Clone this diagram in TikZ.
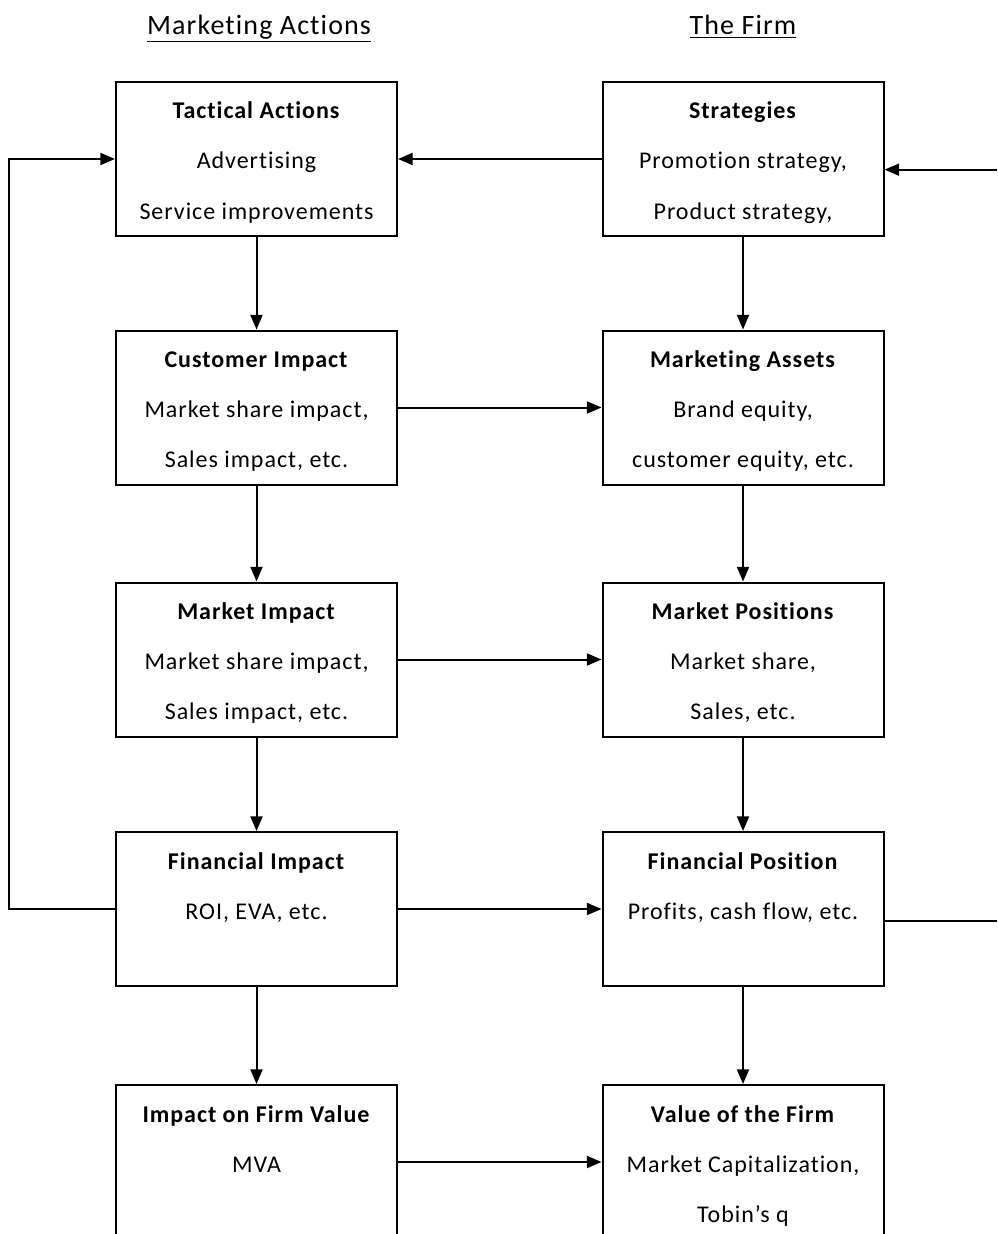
\documentclass[tikz,border=0pt]{standalone}
\usepackage{fontspec}
\setmainfont{Carlito}[LetterSpace=4,Ligatures=NoCommon]
\usepackage{tikz}
\usetikzlibrary{arrows.meta}

\begin{document}
\begin{tikzpicture}[x=0.75pt,y=-0.75pt,>={Triangle[length=11pt,width=9pt]},
    line width=1.5pt, font=\fontsize{18}{37.5}\selectfont,
    box/.style={rectangle,draw,fill=white,minimum width=210.75pt,minimum height=115.5pt,inner sep=0pt,align=center},
    heading/.style={anchor=base,font=\fontsize{21}{25}\selectfont}]
    	\useasboundingbox (0,0) rectangle (997,1234);
    	\clip (0,0) rectangle (997,1234);
    	
    	% column headings
    	\node[heading] (hdrL) at (259,35) {\underline{Marketing Actions}};
    	\node[heading] (hdrR) at (743,35) {\underline{The Firm}};
    	
    	% left column: marketing actions
    	\foreach \i/\y/\title/\lineA/\lineB in {
    		1/159/{Tactical Actions}/{Advertising}/{Service improvements},
    		2/407.5/{Customer Impact}/{Market share impact,}/{Sales impact, etc.},
    		3/659.5/{Market Impact}/{Market share impact,}/{Sales impact, etc.},
    		4/909/{Financial Impact}/{ROI, EVA, etc.}/{},
    		5/1162/{Impact on Firm Value}/{MVA}/{}}{
    		\node[box] (a\i) at (256.5,\y) {\strut\textbf{\title}\\\strut\lineA\\\strut\lineB};
    	}
    	
    	% right column: the firm
    	\foreach \i/\y/\title/\lineA/\lineB in {
    		1/159/{Strategies}/{Promotion strategy,}/{Product strategy,},
    		2/407.5/{Marketing Assets}/{Brand equity,}/{customer equity, etc.},
    		3/659.5/{Market Positions}/{Market share,}/{Sales, etc.},
    		4/909/{Financial Position}/{Profits, cash flow, etc.}/{},
    		5/1162/{Value of the Firm}/{Market Capitalization,}/{Tobin’s q}}{
    		\node[box] (f\i) at (743,\y) {\strut\textbf{\title}\\\strut\lineA\\\strut\lineB};
    	}
    	
    	\foreach \i [count=\j from 2] in {1,2,3,4}{
    		\draw[->] (a\i) -- (a\j);
    		\draw[->] (f\i) -- (f\j);}
    	
    	\draw[->] (f1) -- (a1);
    	\foreach \i in {2,3,4,5}{
    		\draw[->] (a\i) -- (f\i);}
    	
    	% feedback loops
    	\draw[->] (a4.west) -- ++(-106,0) |- (a1.west);
    	\draw[->] ([yshift=-9pt]f4.east) -- ++(130,0) |- ([yshift=-8pt]f1.east);
    \end{tikzpicture}
\end{document}
